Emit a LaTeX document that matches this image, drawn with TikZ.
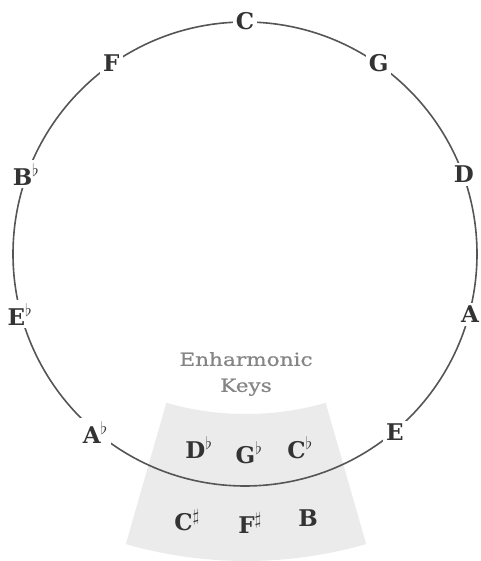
\documentclass[tikz,border=0pt]{standalone}
\usepackage{fontspec}
\setmainfont{DejaVu Serif}
\newfontfamily\keysfont[FakeStretch=1.2,FakeBold=0.6]{DejaVu Serif}
\usetikzlibrary{calc}
\definecolor{ringgray}{HTML}{555555}
\definecolor{labelgray}{HTML}{333333}
\definecolor{sectorgray}{HTML}{EBEBEB}
\definecolor{titlegray}{HTML}{858585}
\begin{document}
\begin{tikzpicture}[x=1pt,y=1pt,
  keylabel/.style={fill=white,inner sep=3pt,text=labelgray,font=\fontsize{23}{26}\selectfont\bfseries},
  enhlabel/.style={inner sep=1pt,text=labelgray,font=\fontsize{23}{26}\selectfont\bfseries},
  title/.style={text=titlegray,font=\keysfont\fontsize{18}{22}\selectfont,align=center},
  ring/.style={draw=ringgray,line width=1.6pt}]
\useasboundingbox (0,0) rectangle (480,561);
\coordinate (O) at (245,307);
\coordinate (S) at (246,436);
% enharmonic sector
\fill[sectorgray] ($(S)+(254:289)$) arc[start angle=254,end angle=286,radius=289]
  -- ($(S)+(286:436)$) arc[start angle=286,end angle=254,radius=436] -- cycle;
% circle
\draw[ring] (O) circle[radius=232];
% circle labels
\node[keylabel] (C)  at ($(O)+(90:233)$)  {C};
\node[keylabel] (G)  at ($(O)+(55:233)$)  {G};
\node[keylabel] (D)  at ($(O)+(20:233)$)  {D};
\node[keylabel] (A)  at ($(O)+(-15:233)$) {A};
\node[keylabel] (E)  at ($(O)+(-50:233)$) {E};
\node[keylabel] (F)  at ($(O)+(125:233)$) {F};
\node[keylabel] (Bb) at ($(O)+(160:233)$) {B$^\flat$};
\node[keylabel] (Eb) at ($(O)+(195:233)$) {E$^\flat$};
\node[keylabel] (Ab) at ($(O)+(230:233)$) {A$^\flat$};
% enharmonic labels
\node[enhlabel] (Db) at (199,113) {D$^\flat$};
\node[enhlabel] (Gb) at (249,108) {G$^\flat$};
\node[enhlabel] (Cb) at (300,113) {C$^\flat$};
\node[enhlabel] (Cs) at (187,41) {C$^\sharp$};
\node[enhlabel] (Fs) at (250,38) {F$^\sharp$};
\node[enhlabel] (B)  at (308,43) {B};
\node[title] (T) at (246,187) {Enharmonic\\[4pt]Keys};
\end{tikzpicture}
\end{document}
